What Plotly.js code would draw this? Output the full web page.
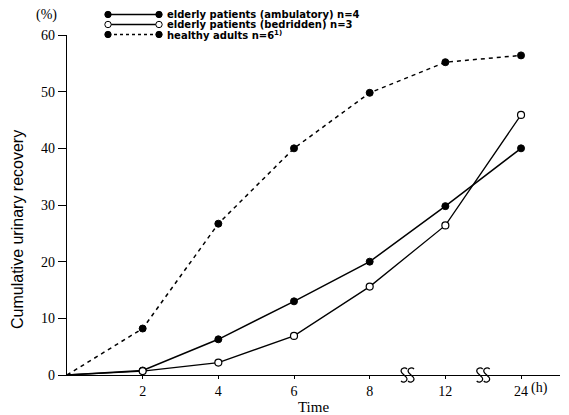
<!DOCTYPE html>
<html>
<head>
<meta charset="utf-8">
<script src="https://cdn.plot.ly/plotly-3.0.1.min.js"></script>
<style>html,body{margin:0;padding:0;background:#fff;}#chart{width:569px;height:415px;}</style>
</head>
<body>
<div id="chart"></div>
<script>
// ---- data ----
const times = ['0', '2', '4', '6', '8', '12', '24'];          // hours (broken axis: equal spacing)
const ambulatory = [0, 0.8, 6.3, 13.0, 20.0, 29.8, 40.0];     // elderly patients (ambulatory) n=4
const bedridden  = [0, 0.7, 2.2, 6.9, 15.6, 26.4, 45.9];      // elderly patients (bedridden) n=3
const healthy    = [0, 8.2, 26.7, 40.0, 49.8, 55.2, 56.4];    // healthy adults n=6
const seriesNames = ['elderly patients (ambulatory) n=4', 'elderly patients (bedridden) n=3', 'healthy adults n=6<sup>1)</sup>'];
const yTicks = [0, 10, 20, 30, 40, 50, 60];
const xTickLabels = ['2', '4', '6', '8', '12', '24'];

// ---- layout geometry ----
const W = 569, H = 415;
const M = {l: 67, r: 9, t: 35, b: 40};
const PW = W - M.l - M.r, PH = H - M.t - M.b;
const XMAX = 6.515;
const px = x => (x - M.l) / PW;      // pixel -> paper
const py = y => (H - M.b - y) / PH;

const xpos = times.map((t, i) => i);
const tickPos = xTickLabels.map(l => times.indexOf(l));
const markerSizes = times.map((t, i) => i === 0 ? 0 : 7);

const serif = 'Liberation Serif, Times New Roman, serif';
const sans = 'Liberation Sans, Arial, sans-serif';
const legendFont = 'DejaVu Sans, sans-serif';

const traces = [
  {x: xpos, y: ambulatory, mode: 'lines+markers', name: seriesNames[0],
   line: {color: '#000', width: 1.5},
   marker: {size: markerSizes, opacity: 1, color: '#000', line: {color: '#000', width: 1}}},
  {x: xpos, y: bedridden, mode: 'lines+markers', name: seriesNames[1],
   line: {color: '#000', width: 1.3},
   marker: {size: markerSizes, opacity: 1, color: '#fff', line: {color: '#000', width: 1.2}}},
  {x: xpos, y: healthy, mode: 'lines+markers', name: seriesNames[2],
   line: {color: '#000', width: 1.5, dash: '4px,4px'},
   marker: {size: markerSizes, opacity: 1, color: '#000', line: {color: '#000', width: 1}}}
];

// axis-break squiggles (pixel-sized paths anchored on the x axis; paper refs so they are not clipped)
const sPath = 'M 3,6 C 1,8 -3,7 -3,4 C -3,1 3,-1 3,-4 C 3,-7 -1,-8 -3,-6';
const shapes = [];
[4.5, 5.5].forEach(b => {
  [-3.5, 3.5].forEach(off => {
    shapes.push({type: 'path', xref: 'paper', yref: 'paper', xsizemode: 'pixel', ysizemode: 'pixel',
      xanchor: b / XMAX + off / PW, yanchor: 0, path: sPath,
      line: {color: '#000', width: 1.3}});
  });
});

// custom compact legend
const legendRows = [14.5, 24.5, 34.5];
const legendStyles = [
  {dash: 'solid', fill: '#000'},
  {dash: 'solid', fill: '#fff'},
  {dash: '3px,3px', fill: '#000'}
];
const annotations = [];
legendRows.forEach((ry, i) => {
  shapes.push({type: 'line', xref: 'paper', yref: 'paper', x0: px(108), x1: px(159), y0: py(ry), y1: py(ry),
    line: {color: '#000', width: 1.3, dash: legendStyles[i].dash}});
  [108, 159].forEach(cx => {
    shapes.push({type: 'circle', xref: 'paper', yref: 'paper', xsizemode: 'pixel', ysizemode: 'pixel',
      xanchor: px(cx), yanchor: py(ry), x0: -3.2, x1: 3.2, y0: -3.2, y1: 3.2,
      fillcolor: legendStyles[i].fill, line: {color: '#000', width: 1}});
  });
  annotations.push({xref: 'paper', yref: 'paper', x: px(165), y: py(ry), xanchor: 'left', yanchor: 'middle',
    text: '<b>' + seriesNames[i] + '</b>', showarrow: false, font: {family: legendFont, size: 10, color: '#000'}});
});

annotations.push({xref: 'paper', yref: 'paper', x: px(46), y: py(15), xanchor: 'center', yanchor: 'middle',
  text: '(%)', showarrow: false, font: {family: serif, size: 14, color: '#000'}});
annotations.push({xref: 'paper', yref: 'paper', x: px(17), y: py(230), xanchor: 'center', yanchor: 'middle',
  text: 'Cumulative urinary recovery', textangle: -90, showarrow: false, font: {family: sans, size: 16, color: '#000'}});
annotations.push({xref: 'x', yref: 'paper', x: 6, y: py(388), xanchor: 'left', yanchor: 'middle', xshift: 8,
  text: '(h)', showarrow: false, font: {family: serif, size: 14, color: '#000'}});

const layout = {
  width: W, height: H,
  margin: M,
  paper_bgcolor: '#fff', plot_bgcolor: '#fff',
  showlegend: false,
  xaxis: {range: [0, XMAX], showgrid: false, zeroline: false, showline: true, linecolor: '#000', linewidth: 1.3,
    tickmode: 'array', tickvals: tickPos, ticktext: xTickLabels, ticks: 'outside', ticklen: 3, tickcolor: '#000',
    tickfont: {family: serif, size: 14, color: '#000'},
    title: {text: 'Time', font: {family: serif, size: 15, color: '#000'}, standoff: 5}},
  yaxis: {range: [0, 60], showgrid: false, zeroline: false, showline: true, linecolor: '#000', linewidth: 1.3,
    tickmode: 'array', tickvals: yTicks, ticks: 'outside', ticklen: 8, tickcolor: '#000',
    tickfont: {family: serif, size: 14, color: '#000'}},
  shapes: shapes,
  annotations: annotations
};

Plotly.newPlot('chart', traces, layout, {displayModeBar: false, staticPlot: true});
</script>
</body>
</html>
